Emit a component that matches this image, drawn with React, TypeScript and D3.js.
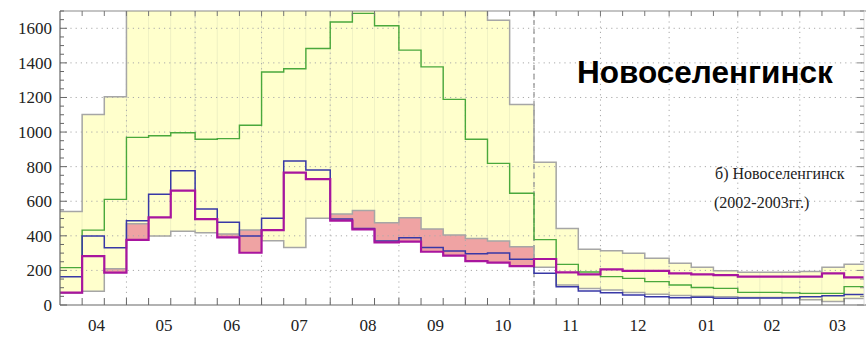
import { useMemo } from 'react';
import * as d3 from 'd3';

const WIDTH = 866;
const HEIGHT = 338;
const margin = { top: 11, right: 1, bottom: 33, left: 60 };

// months of the hydrological year, April to March
const MONTHS = ['04', '05', '06', '07', '08', '09', '10', '11', '12', '01', '02', '03'];
const MONTH_DAYS = [30, 31, 30, 31, 31, 30, 31, 30, 31, 31, 28, 31];
const Y_TICKS = [0, 200, 400, 600, 800, 1000, 1200, 1400, 1600];

// ten-day (decade) discharges, 36 values each
const qMax = [540, 1102, 1204, 1750, 1750, 1750, 1750, 1750, 1750, 1750, 1750, 1750, 1750, 1750, 1750, 1750, 1750, 1750, 1750,
  1647, 1160, 825, 443, 322, 314, 299, 270, 241, 218, 198, 189, 189, 190, 193, 218, 235];
const qMin = [70, 80, 210, 470, 399, 426, 418, 410, 433, 372, 333, 501, 526, 547, 476, 505, 439, 405, 385, 370, 337,
  218, 116, 96, 87, 73, 62, 55, 50, 47, 44, 44, 44, 30, 20, 38];
const qGreen = [216, 433, 611, 969, 979, 996, 958, 962, 1039, 1347, 1366, 1483, 1636, 1686, 1615, 1474, 1377, 1189, 958,
  819, 646, 378, 235, 191, 164, 154, 135, 116, 101, 96, 73, 73, 70, 67, 67, 106];
const qBlue = [164, 399, 331, 487, 641, 776, 555, 478, 399, 501, 832, 780, 497, 443, 370, 389, 333, 312, 297, 300, 264,
  183, 106, 81, 71, 58, 48, 42, 45, 39, 40, 40, 42, 48, 54, 60];
const qMagenta = [72, 283, 187, 376, 507, 661, 497, 391, 302, 433, 765, 728, 488, 437, 362, 366, 308, 285, 254, 245, 225,
  266, 189, 177, 206, 197, 197, 183, 177, 173, 164, 164, 164, 164, 183, 160];

const TITLE = 'Новоселенгинск';
const NOTE_1 = 'б) Новоселенгинск';
const NOTE_2 = '(2002-2003гг.)';

const SERIF = '"Liberation Serif", "Times New Roman", serif';

export default function App() {
  const boundsRight = WIDTH - margin.right - 1;
  const boundsBottom = HEIGHT - margin.bottom;

  // month start days counted from April 1
  const monthStart = useMemo(() => {
    const s = [0];
    MONTH_DAYS.forEach((d, i) => s.push(s[i] + d));
    return s;
  }, []);

  const decades = useMemo(() => {
    return d3.range(36).map((i) => {
      const m = Math.floor(i / 3);
      const k = i % 3;
      const d0 = monthStart[m] + k * 10;
      const d1 = k === 2 ? monthStart[m + 1] : d0 + 10;
      return { i, d0, d1 };
    });
  }, [monthStart]);

  const xScale = d3.scaleLinear().domain([0, 365]).range([margin.left, margin.left + 365 * 2.215]);
  const yScale = d3.scaleLinear().domain([0, 1700]).range([boundsBottom, margin.top]);

  const stepPts = (vals: number[]) =>
    decades.flatMap((d) => [[xScale(d.d0), yScale(vals[d.i])], [xScale(d.d1), yScale(vals[d.i])]] as [number, number][]);
  const line = d3.line();
  const stepPath = (vals: number[]) => line(stepPts(vals)) as string;

  // red band: where the 2002-2003 line falls below the historical minimum
  const redArea = d3
    .area<{ x: number; lo: number; hi: number }>()
    .x((d) => d.x)
    .y0((d) => yScale(d.lo))
    .y1((d) => yScale(d.hi));
  const redPts = decades.flatMap((d) => {
    const lo = qMagenta[d.i];
    const hi = Math.max(qMin[d.i], lo);
    return [{ x: xScale(d.d0), lo, hi }, { x: xScale(d.d1), lo, hi }];
  });

  const minorTicks = d3.range(0, 1701, 50);
  const decadeTicks = decades.map((d) => d.d0).filter((d) => d > 0);
  const monthBounds = monthStart.slice(1, 12);

  return (
    <svg width={WIDTH} height={HEIGHT} style={{ position: 'absolute', left: 0, top: 0, background: '#fff' }}>
      <defs>
        <clipPath id="plot">
          <rect x={margin.left} y={margin.top} width={boundsRight - margin.left} height={boundsBottom - margin.top} />
        </clipPath>
      </defs>
      <rect width={WIDTH} height={HEIGHT} fill="#fff" />

      <g clipPath="url(#plot)">
        {/* envelope between historical max and min */}
        {decades.map((d) => (
          <rect
            key={'y' + d.i}
            x={xScale(d.d0)}
            y={yScale(qMax[d.i])}
            width={xScale(d.d1) - xScale(d.d0)}
            height={yScale(qMin[d.i]) - yScale(qMax[d.i])}
            fill="#ffffcc"
            stroke="#eef0c2"
            strokeWidth={0.8}
          />
        ))}
        <path d={redArea(redPts) as string} fill="#efa3a3" />

        {/* grid */}
        {Y_TICKS.filter((t) => t > 0).map((t) => (
          <line key={'gy' + t} x1={margin.left} x2={boundsRight} y1={yScale(t)} y2={yScale(t)}
            stroke="#aaa" strokeWidth={1} strokeDasharray="1.2,4" />
        ))}
        {monthBounds.map((m) => (
          <line key={'gx' + m} x1={xScale(m)} x2={xScale(m)} y1={margin.top} y2={boundsBottom}
            stroke="#aaa" strokeWidth={1} strokeDasharray="1.2,4" />
        ))}
        <line x1={xScale(monthStart[7])} x2={xScale(monthStart[7])} y1={margin.top} y2={boundsBottom}
          stroke="#999" strokeWidth={1.3} strokeDasharray="5,4" />

        <path d={stepPath(qMax)} fill="none" stroke="#a6a6a6" strokeWidth={1.5} />
        <path d={stepPath(qMin)} fill="none" stroke="#a6a6a6" strokeWidth={1.5} />
        <path d={stepPath(qGreen)} fill="none" stroke="#4aa83c" strokeWidth={1.4} />
        <path d={stepPath(qBlue)} fill="none" stroke="#3838a6" strokeWidth={1.5} />
        <path d={stepPath(qMagenta)} fill="none" stroke="#a8159e" strokeWidth={2.2} />
      </g>

      {/* frame */}
      <line x1={margin.left} x2={WIDTH} y1={margin.top} y2={margin.top} stroke="#8a8a8a" strokeWidth={1.2} />
      <line x1={margin.left} x2={WIDTH} y1={boundsBottom} y2={boundsBottom} stroke="#666" strokeWidth={1.2} />
      <line x1={margin.left} x2={margin.left} y1={margin.top} y2={boundsBottom} stroke="#666" strokeWidth={1.2} />
      <line x1={boundsRight} x2={boundsRight} y1={margin.top} y2={boundsBottom} stroke="#ddd" strokeWidth={1} />

      {/* y ticks, both sides */}
      {minorTicks.map((t) => {
        const major = t % 200 === 0;
        return (
          <g key={'yt' + t}>
            <line x1={margin.left} x2={margin.left + (major ? 7 : 4)} y1={yScale(t)} y2={yScale(t)} stroke="#666" />
            <line x1={boundsRight} x2={boundsRight - (major ? 7 : 4)} y1={yScale(t)} y2={yScale(t)} stroke="#888" />
          </g>
        );
      })}
      {Y_TICKS.map((t) => (
        <text key={'yl' + t} x={margin.left - 8} y={yScale(t)} dy="0.35em" textAnchor="end"
          fontFamily={SERIF} fontSize={17} fill="#222">{t}</text>
      ))}

      {/* x ticks, both sides */}
      {decadeTicks.map((d) => (
        <g key={'xt' + d}>
          <line x1={xScale(d)} x2={xScale(d)} y1={boundsBottom} y2={boundsBottom - 7} stroke="#666" />
          <line x1={xScale(d)} x2={xScale(d)} y1={margin.top} y2={margin.top + 5} stroke="#777" />
        </g>
      ))}
      {MONTHS.map((m, i) => (
        <text key={'xl' + m} x={xScale((monthStart[i] + monthStart[i + 1]) / 2 + 1.5)} y={boundsBottom + 26}
          textAnchor="middle" fontFamily={SERIF} fontSize={17} fill="#222">{m}</text>
      ))}

      <text x={577} y={83} fontFamily='"Liberation Sans", Arial, sans-serif' fontWeight="bold" fontSize={31.5} fill="#000">
        {TITLE}
      </text>
      <text x={715} y={179} fontFamily={SERIF} fontSize={16} fill="#222">{NOTE_1}</text>
      <text x={714} y={208} fontFamily={SERIF} fontSize={16} fill="#222">{NOTE_2}</text>
    </svg>
  );
}
